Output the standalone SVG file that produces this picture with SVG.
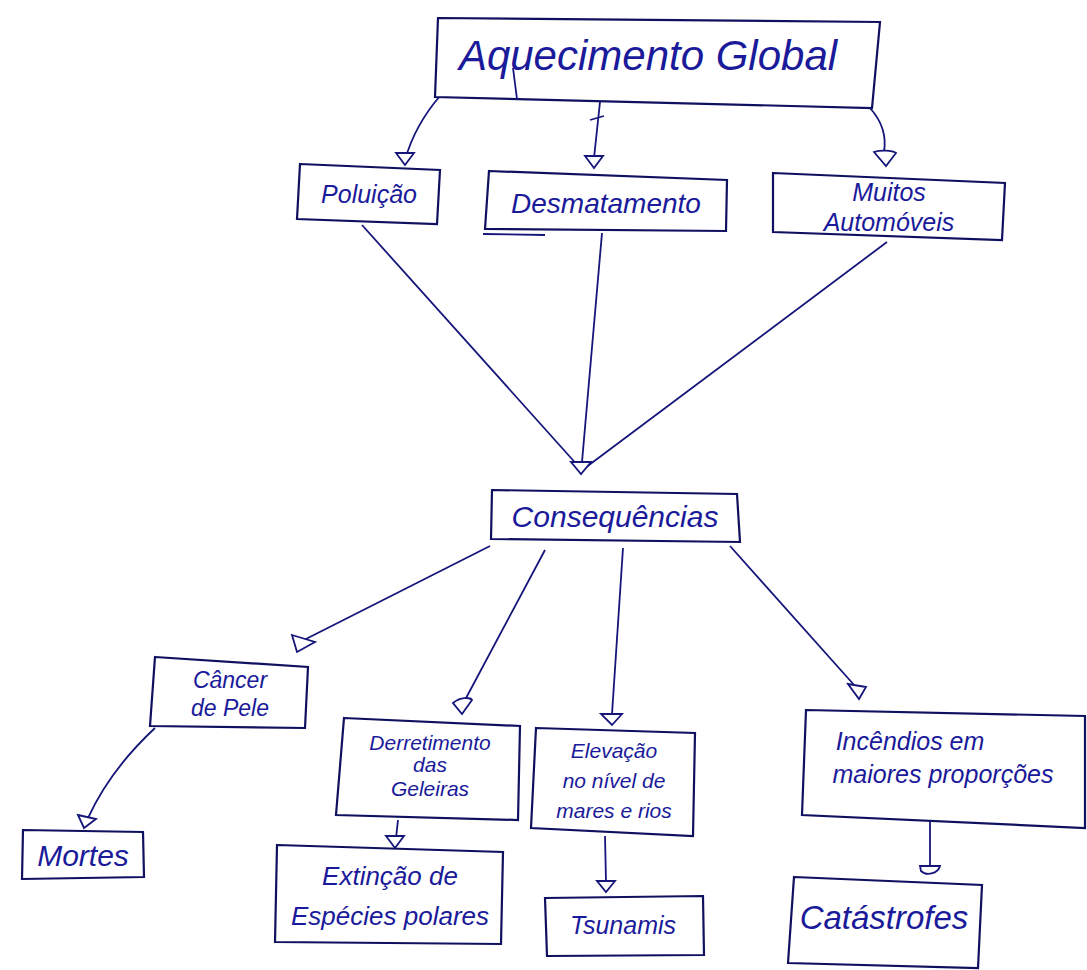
<svg xmlns="http://www.w3.org/2000/svg" width="1087" height="970" viewBox="0 0 1087 970">
  <defs>
    <style>
      .box { fill: #ffffff; stroke: #101060; stroke-width: 2.2; }
      .edge { fill: none; stroke: #15157a; stroke-width: 1.8; }
      .head { fill: #ffffff; stroke: #15157a; stroke-width: 1.8; }
      .lbl { font-family: "Liberation Sans", Arial, sans-serif; fill: #1a1a9a; font-style: italic; text-anchor: middle; }
    </style>
  </defs>
  <rect width="1087" height="970" fill="#ffffff"/>

  <!-- connectors -->
  <g id="connectors">
    <path class="edge" d="M440,96 Q415,125 405,160"/>
    <path class="edge" d="M600,102 L594,158"/>
    <path class="edge" d="M590,120 L604,116"/>
    <path class="edge" d="M870,108 Q888,128 884,152"/>
    <path class="edge" d="M362,225 L580,468"/>
    <path class="edge" d="M602,233 L582,462"/>
    <path class="edge" d="M887,242 L585,468"/>
    <path class="edge" d="M490,546 L298,643"/>
    <path class="edge" d="M545,550 L465,700"/>
    <path class="edge" d="M623,548 L612,714"/>
    <path class="edge" d="M730,546 L855,686"/>
    <path class="edge" d="M155,728 Q110,770 88,818"/>
    <path class="edge" d="M398,820 L396,838"/>
    <path class="edge" d="M605,836 L606,882"/>
    <path class="edge" d="M930,822 L930,866"/>
    <!-- arrowheads -->
    <path class="head" d="M396,153 L414,153 L405,165 Z"/>
    <path class="head" d="M585,156 L603,156 L594,168 Z"/>
    <path class="head" d="M874,152 C880,150 892,150 896,153 L886,166 Z"/>
    <path class="head" d="M571,462 L591,462 L581,474 Z"/>
    <path class="head" d="M292,635 L315,642 L297,652 Z"/>
    <path class="head" d="M453,703 C460,697 470,697 472,700 L462,714 Z"/>
    <path class="head" d="M601,714 L622,714 L612,725 Z"/>
    <path class="head" d="M848,684 L866,687 L859,699 Z"/>
    <path class="head" d="M78,815 L96,819 L84,828 Z"/>
    <path class="head" d="M386,836 L404,836 L395,848 Z"/>
    <path class="head" d="M597,881 L615,881 L606,892 Z"/>
    <path class="head" d="M920,866 L940,866 C938,874 926,876 921,871 Z"/>
  </g>

  <!-- causes -->
  <g id="aquecimento">
    <path class="box" d="M438,18 L880,22 L872,108 L435,97 Z"/>
    <path class="edge" d="M513,68 L517,99"/>
    <text class="lbl" x="648" y="70" font-size="42">Aquecimento Global</text>
  </g>
  <g id="poluicao">
    <path class="box" d="M300,164 L440,170 L437,224 L297,219 Z"/>
    <text class="lbl" x="369" y="203" font-size="25">Poluição</text>
  </g>
  <g id="desmatamento">
    <path class="box" d="M489,171 L727,180 L726,231 L485,229 Z"/>
    <path class="edge" d="M483,234 L545,235"/>
    <text class="lbl" x="606" y="213" font-size="28">Desmatamento</text>
  </g>
  <g id="automoveis">
    <path class="box" d="M773,173 L1005,183 L1002,240 L773,232 Z"/>
    <text class="lbl" x="889" y="201" font-size="25">Muitos</text>
    <text class="lbl" x="889" y="231" font-size="25">Automóveis</text>
  </g>

  <!-- consequences hub -->
  <g id="consequencias">
    <path class="box" d="M492,490 L737,494 L740,542 L491,539 Z"/>
    <text class="lbl" x="615" y="527" font-size="30">Consequências</text>
  </g>

  <!-- effects -->
  <g id="cancer">
    <path class="box" d="M155,657 L308,667 L305,728 L150,726 Z"/>
    <text class="lbl" x="230" y="688" font-size="23">Câncer</text>
    <text class="lbl" x="230" y="716" font-size="23">de Pele</text>
  </g>
  <g id="derretimento">
    <path class="box" d="M344,718 L520,726 L518,820 L336,815 Z"/>
    <text class="lbl" x="430" y="750" font-size="21">Derretimento</text>
    <text class="lbl" x="430" y="772" font-size="21">das</text>
    <text class="lbl" x="430" y="796" font-size="21">Geleiras</text>
  </g>
  <g id="elevacao">
    <path class="box" d="M536,728 L695,733 L693,836 L531,828 Z"/>
    <text class="lbl" x="614" y="758" font-size="21">Elevação</text>
    <text class="lbl" x="614" y="788" font-size="21">no nível de</text>
    <text class="lbl" x="614" y="818" font-size="21">mares e rios</text>
  </g>
  <g id="incendios">
    <path class="box" d="M806,710 L1085,716 L1085,828 L802,815 Z"/>
    <text class="lbl" x="910" y="750" font-size="25">Incêndios em</text>
    <text class="lbl" x="943" y="783" font-size="25">maiores proporções</text>
  </g>
  <g id="mortes">
    <path class="box" d="M23,830 L143,832 L144,877 L22,879 Z"/>
    <text class="lbl" x="83" y="866" font-size="30">Mortes</text>
  </g>
  <g id="extincao">
    <path class="box" d="M277,845 L503,852 L501,944 L275,942 Z"/>
    <text class="lbl" x="390" y="885" font-size="26">Extinção de</text>
    <text class="lbl" x="390" y="925" font-size="26">Espécies polares</text>
  </g>
  <g id="tsunamis">
    <path class="box" d="M545,898 L703,896 L704,955 L547,956 Z"/>
    <text class="lbl" x="623" y="934" font-size="25">Tsunamis</text>
  </g>
  <g id="catastrofes">
    <path class="box" d="M794,877 L982,885 L978,968 L788,963 Z"/>
    <text class="lbl" x="884" y="929" font-size="33">Catástrofes</text>
  </g>
</svg>
